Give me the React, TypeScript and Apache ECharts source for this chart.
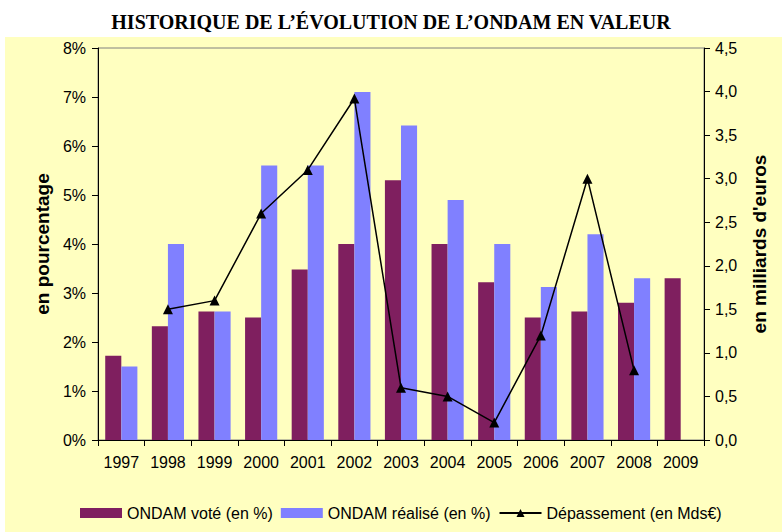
import React, { useEffect, useRef } from "react";
import * as echarts from "echarts";

const years = ["1997","1998","1999","2000","2001","2002","2003","2004","2005","2006","2007","2008","2009"];
const ondamVote = [1.72, 2.32, 2.62, 2.5, 3.48, 4.0, 5.3, 4.0, 3.22, 2.5, 2.62, 2.8, 3.3];
const ondamRealise = [1.5, 4.0, 2.62, 5.6, 5.6, 7.1, 6.42, 4.9, 4.0, 3.12, 4.2, 3.3, null];
const depassement = [null, 1.5, 1.6, 2.6, 3.1, 3.92, 0.6, 0.5, 0.2, 1.2, 3.0, 0.8, null];

const FONT = "'Liberation Sans', Arial, sans-serif";

export default function App() {
  const ref = useRef<HTMLDivElement>(null);
  useEffect(() => {
    const chart = echarts.init(ref.current!, null, { renderer: "svg" });
    chart.setOption({
      animation: false,
      backgroundColor: "#ffffff",
      textStyle: { fontFamily: FONT },
      title: {
        text: "HISTORIQUE DE L\u2019\u00C9VOLUTION DE L\u2019ONDAM EN VALEUR",
        left: "center",
        top: 7,
        textStyle: { fontFamily: "'Liberation Serif', 'Times New Roman', serif", fontWeight: "bold", fontSize: 20, color: "#000" },
      },
      graphic: [
        { type: "rect", z: -10, shape: { x: 5, y: 37, width: 777, height: 495 }, style: { fill: "#FFFFC0" } },
      ],
      grid: { left: 98, right: 78, top: 48, bottom: 92, show: true, borderColor: "#808080", borderWidth: 1, backgroundColor: "transparent" },
      legend: {
        bottom: 6,
        left: 75,
        itemGap: 8,
        itemWidth: 42,
        itemHeight: 10,
        textStyle: { fontSize: 16, color: "#000", fontFamily: FONT },
        data: [
          { name: "ONDAM voté (en %)", icon: "rect" },
          { name: "ONDAM réalisé (en %)", icon: "rect" },
          { name: "Dépassement (en Mds€)" },
        ],
      },
      xAxis: {
        type: "category",
        data: years,
        axisLine: { lineStyle: { color: "#000", width: 1 } },
        axisTick: { show: true, interval: 0, alignWithLabel: false, length: 6, lineStyle: { color: "#000" } },
        axisLabel: { fontSize: 16, color: "#000", margin: 14, fontFamily: FONT },
        splitLine: { show: false },
      },
      yAxis: [
        {
          type: "value",
          min: 0,
          max: 8,
          interval: 1,
          name: "en pourcentage",
          nameLocation: "middle",
          nameRotate: 90,
          nameGap: 45,
          nameTextStyle: { fontSize: 19, fontWeight: "bold", color: "#000", fontFamily: FONT },
          axisLine: { show: true, lineStyle: { color: "#000" } },
          axisTick: { show: true, length: 6, lineStyle: { color: "#000" } },
          axisLabel: { fontSize: 16, color: "#000", formatter: "{value}%", margin: 12, fontFamily: FONT },
          splitLine: { show: false },
        },
        {
          type: "value",
          min: 0,
          max: 4.5,
          interval: 0.5,
          position: "right",
          name: "en milliards d'euros",
          nameLocation: "middle",
          nameRotate: 90,
          nameGap: 46,
          nameTextStyle: { fontSize: 19, fontWeight: "bold", color: "#000", fontFamily: FONT },
          axisLine: { show: true, lineStyle: { color: "#000" } },
          axisTick: { show: true, length: 6, lineStyle: { color: "#000" } },
          axisLabel: { fontSize: 16, color: "#000", margin: 11, fontFamily: FONT, formatter: (v: number) => v.toFixed(1).replace(".", ",") },
          splitLine: { show: false },
        },
      ],
      series: [
        {
          name: "ONDAM voté (en %)",
          type: "bar",
          data: ondamVote,
          itemStyle: { color: "#7F1F5F" },
          barGap: "0%",
          barCategoryGap: "31%",
        },
        {
          name: "ONDAM réalisé (en %)",
          type: "bar",
          data: ondamRealise,
          itemStyle: { color: "#8080FF" },
          barGap: "0%",
          barCategoryGap: "31%",
        },
        {
          name: "Dépassement (en Mds€)",
          type: "line",
          yAxisIndex: 1,
          data: depassement,
          symbol: "triangle",
          symbolSize: 10,
          lineStyle: { color: "#000", width: 1.5 },
          itemStyle: { color: "#000" },
          z: 5,
        },
      ],
    });
    return () => chart.dispose();
  }, []);
  return (
    <div style={{ position: "fixed", left: 0, top: 0, width: 782, height: 532 }}>
      <div ref={ref} style={{ width: 782, height: 532 }} />
    </div>
  );
}
